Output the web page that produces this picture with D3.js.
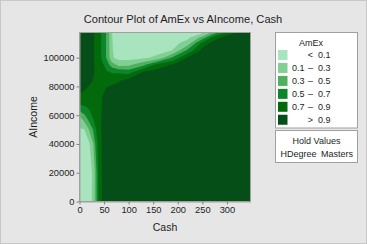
<!DOCTYPE html>
<html>
<head>
<meta charset="utf-8">
<script src="https://cdn.jsdelivr.net/npm/d3@7"></script>
<style>
  body { margin: 0; background: #e6e6e6; }
  svg { display: block; }
  text { font-family: "Liberation Sans", Arial, sans-serif; fill: #1e1e1e; }
</style>
</head>
<body>
<div id="chart"></div>
<script>
// grid (cash columns, income rows bottom -> top)
const cash = [0, 10, 20, 28, 34, 40, 48, 56, 66, 80, 100, 130, 160, 190, 220, 250, 270, 290, 310, 330, 350];
const income = [0, 20000, 40000, 50000, 58000, 65000, 72000, 78000, 84000, 90000, 95000, 100000, 105000, 110000, 114000, 117500];
const amex = [
  [0.02, 0.02, 0.04, 0.13, 0.45, 0.80, 0.95, 0.98, 0.99, 0.99, 0.99, 0.99, 0.99, 0.99, 0.99, 0.99, 0.99, 0.99, 0.99, 0.99, 0.99],
  [0.02, 0.02, 0.04, 0.13, 0.46, 0.80, 0.95, 0.98, 0.99, 0.99, 0.99, 0.99, 0.99, 0.99, 0.99, 0.99, 0.99, 0.99, 0.99, 0.99, 0.99],
  [0.02, 0.03, 0.08, 0.30, 0.60, 0.82, 0.95, 0.98, 0.99, 0.99, 0.99, 0.99, 0.99, 0.99, 0.99, 0.99, 0.99, 0.99, 0.99, 0.99, 0.99],
  [0.07, 0.10, 0.32, 0.52, 0.70, 0.84, 0.95, 0.98, 0.99, 0.99, 0.99, 0.99, 0.99, 0.99, 0.99, 0.99, 0.99, 0.99, 0.99, 0.99, 0.99],
  [0.25, 0.40, 0.60, 0.72, 0.79, 0.85, 0.94, 0.98, 0.99, 0.99, 0.99, 0.99, 0.99, 0.99, 0.99, 0.99, 0.99, 0.99, 0.99, 0.99, 0.99],
  [0.62, 0.66, 0.72, 0.76, 0.79, 0.84, 0.93, 0.96, 0.98, 0.99, 0.99, 0.99, 0.99, 0.99, 0.99, 0.99, 0.99, 0.99, 0.99, 0.99, 0.99],
  [0.86, 0.84, 0.81, 0.79, 0.80, 0.85, 0.92, 0.96, 0.98, 0.99, 0.99, 0.99, 0.99, 0.99, 0.99, 0.99, 0.99, 0.99, 0.99, 0.99, 0.99],
  [0.95, 0.91, 0.86, 0.82, 0.80, 0.80, 0.86, 0.93, 0.96, 0.98, 0.99, 0.99, 0.99, 0.99, 0.99, 0.99, 0.99, 0.99, 0.99, 0.99, 0.99],
  [0.98, 0.97, 0.95, 0.89, 0.87, 0.83, 0.80, 0.80, 0.84, 0.88, 0.99, 0.99, 0.99, 0.99, 0.99, 0.99, 0.99, 0.99, 0.99, 0.99, 0.99],
  [0.99, 0.98, 0.96, 0.92, 0.87, 0.80, 0.76, 0.72, 0.68, 0.66, 0.61, 0.91, 0.99, 0.98, 0.99, 0.99, 0.99, 0.99, 0.99, 0.99, 0.99],
  [0.99, 0.99, 0.97, 0.92, 0.86, 0.80, 0.72, 0.58, 0.40, 0.24, 0.26, 0.45, 0.80, 0.92, 0.97, 0.99, 0.99, 0.99, 0.99, 0.99, 0.99],
  [0.99, 0.99, 0.97, 0.91, 0.87, 0.81, 0.59, 0.47, 0.13, 0.03, 0.02, 0.06, 0.16, 0.54, 0.92, 0.98, 0.99, 0.99, 0.99, 0.99, 0.99],
  [0.99, 0.99, 0.97, 0.91, 0.87, 0.81, 0.59, 0.47, 0.115, 0.02, 0.02, 0.03, 0.02, 0.11, 0.55, 0.96, 0.99, 0.99, 0.99, 0.99, 0.99],
  [0.99, 0.98, 0.96, 0.91, 0.87, 0.81, 0.59, 0.47, 0.11, 0.02, 0.02, 0.02, 0.02, 0.03, 0.19, 0.78, 0.96, 0.97, 0.99, 0.99, 0.99],
  [0.99, 0.98, 0.96, 0.91, 0.87, 0.81, 0.59, 0.47, 0.105, 0.02, 0.02, 0.02, 0.02, 0.02, 0.05, 0.37, 0.72, 0.92, 0.97, 0.99, 0.99],
  [0.99, 0.98, 0.96, 0.91, 0.87, 0.81, 0.59, 0.47, 0.104, 0.02, 0.02, 0.02, 0.02, 0.02, 0.03, 0.06, 0.33, 0.63, 0.86, 0.96, 0.99]
];
const thresholds = [0.1, 0.3, 0.5, 0.7, 0.9];
const bandColors = ["#a8e4be", "#81cf95", "#4fb05d", "#0b862b", "#036a0c", "#054e17"];
const legendLow = ["", "0.1", "0.3", "0.5", "0.7", ""];
const legendSym = ["<", "\u2013", "\u2013", "\u2013", "\u2013", ">"];
const legendHigh = ["0.1", "0.3", "0.5", "0.7", "0.9", "0.9"];
const xTicks = [0, 50, 100, 150, 200, 250, 300];
const yTicks = [0, 20000, 40000, 60000, 80000, 100000];

const W = 367, H = 244;
const svg = d3.select("#chart").append("svg")
    .attr("width", W)
    .attr("height", H);

svg.append("rect")
    .attr("x", 0.5).attr("y", 0.5)
    .attr("width", W - 1).attr("height", H - 1)
    .attr("fill", "#e6e6e6")
    .attr("stroke", "#c8c8c8");

const x = d3.scaleLinear().domain([0, 348]).range([79.5, 250.5]);
const y = d3.scaleLinear().domain([0, 117500]).range([201.5, 32.5]);

// grid index -> data value (grid is not evenly spaced)
const gx = d3.scaleLinear().domain(d3.range(cash.length)).range(cash).clamp(true);
const gy = d3.scaleLinear().domain(d3.range(income.length)).range(income).clamp(true);

const contours = d3.contours()
    .size([cash.length, income.length])
    .thresholds(thresholds)(amex.flat());

const proj = d3.geoTransform({
    point: function(px, py) { this.stream.point(x(gx(px - 0.5)), y(gy(py - 0.5))); }
});
const path = d3.geoPath(proj);

svg.append("clipPath").attr("id", "plotclip")
  .append("rect")
    .attr("x", 79.5).attr("y", 32.5)
    .attr("width", 171).attr("height", 169);

const plot = svg.append("g").attr("clip-path", "url(#plotclip)");

plot.append("rect")
    .attr("x", 79.5).attr("y", 32.5)
    .attr("width", 171).attr("height", 169)
    .attr("fill", bandColors[0]);

plot.selectAll("path.band")
    .data(contours)
    .join("path")
    .attr("class", "band")
    .attr("d", path)
    .attr("fill", (d, i) => bandColors[i + 1]);

svg.append("rect")
    .attr("x", 79.5).attr("y", 32.5)
    .attr("width", 171).attr("height", 169)
    .attr("fill", "none")
    .attr("stroke", "#a0a0a0");

// axes
const xAxis = svg.append("g")
    .attr("transform", "translate(0,201.5)")
    .call(d3.axisBottom(x).tickValues(xTicks).tickSize(3).tickSizeOuter(0).tickPadding(2));
const yAxis = svg.append("g")
    .attr("transform", "translate(79.5,0)")
    .call(d3.axisLeft(y).tickValues(yTicks).tickFormat(d3.format("d")).tickSize(3).tickSizeOuter(0).tickPadding(2));

[xAxis, yAxis].forEach(g => {
    g.select(".domain").attr("stroke", "#a0a0a0");
    g.selectAll(".tick line").attr("stroke", "#808080");
    g.selectAll("text")
        .style("font-size", "9.3px")
        .style("font-family", "'Liberation Sans', Arial, sans-serif")
        .attr("fill", "#1e1e1e");
});

svg.append("text")
    .attr("x", 183).attr("y", 23)
    .attr("text-anchor", "middle")
    .style("font-size", "11.1px")
    .text("Contour Plot of AmEx vs AIncome, Cash");

svg.append("text")
    .attr("x", 165).attr("y", 231)
    .attr("text-anchor", "middle")
    .style("font-size", "10.5px")
    .text("Cash");

svg.append("text")
    .attr("transform", "translate(37,117) rotate(-90)")
    .attr("text-anchor", "middle")
    .style("font-size", "10.5px")
    .text("AIncome");

// legend
const leg = svg.append("g");
leg.append("rect")
    .attr("x", 275.5).attr("y", 32.5)
    .attr("width", 82).attr("height", 95.5)
    .attr("fill", "#fff")
    .attr("stroke", "#a0a0a0");

leg.append("text")
    .attr("x", 311).attr("y", 45.5)
    .attr("text-anchor", "middle")
    .style("font-size", "9px")
    .text("AmEx");

const rows = leg.selectAll("g.row")
    .data(bandColors)
    .join("g")
    .attr("class", "row")
    .attr("transform", (d, i) => `translate(0,${55 + i * 12.95})`);

rows.append("rect")
    .attr("x", 278).attr("y", -5)
    .attr("width", 9.5).attr("height", 10)
    .attr("fill", d => d);

rows.append("text")
    .attr("x", 292).attr("y", 3.3)
    .style("font-size", "9px")
    .text((d, i) => legendLow[i]);

rows.append("text")
    .attr("x", 310.5).attr("y", 3.3)
    .attr("text-anchor", "middle")
    .style("font-size", "9px")
    .text((d, i) => legendSym[i]);

rows.append("text")
    .attr("x", 318).attr("y", 3.3)
    .style("font-size", "9px")
    .text((d, i) => legendHigh[i]);

leg.append("rect")
    .attr("x", 275.5).attr("y", 130.5)
    .attr("width", 82).attr("height", 32)
    .attr("fill", "#fff")
    .attr("stroke", "#a0a0a0");

leg.append("text")
    .attr("x", 316.5).attr("y", 143.5)
    .attr("text-anchor", "middle")
    .style("font-size", "9px")
    .text("Hold Values");

leg.append("text")
    .attr("x", 280.5).attr("y", 157)
    .style("font-size", "9px")
    .text("HDegree");

leg.append("text")
    .attr("x", 353).attr("y", 157)
    .attr("text-anchor", "end")
    .style("font-size", "9px")
    .text("Masters");
</script>
</body>
</html>
